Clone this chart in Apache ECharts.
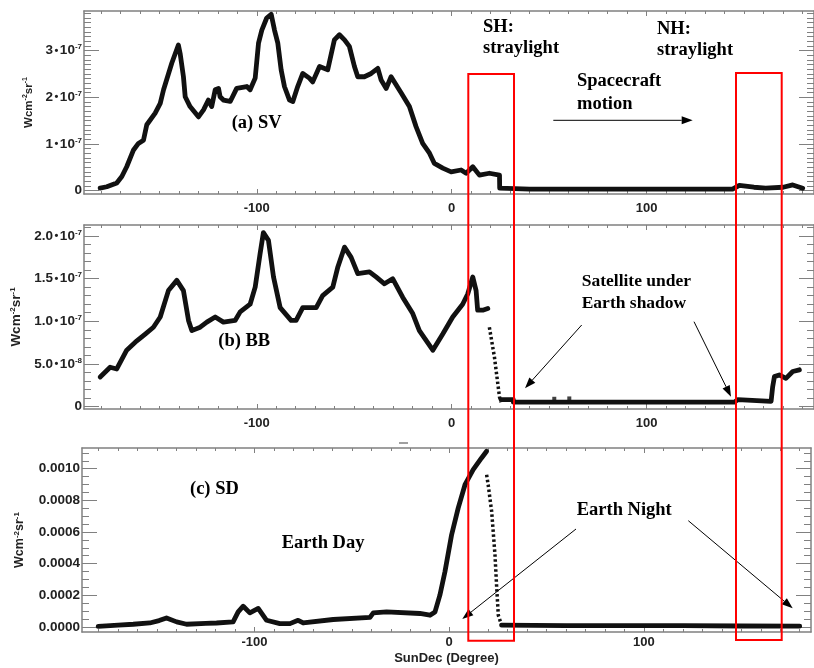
<!DOCTYPE html>
<html>
<head>
<meta charset="utf-8">
<script src="https://cdn.jsdelivr.net/npm/echarts@6/dist/echarts.min.js"></script>
<style>
  html, body { margin: 0; padding: 0; background: #fff; }
  #main { width: 814px; height: 668px; }
</style>
</head>
<body>
<div id="main"></div>
<script>
// SunDec (deg) vs radiance. SV/BB in 1e-7 Wcm-2sr-1, SD in 1e-4 Wcm-2sr-1
var svData = [[-180.3,0.05],[-176.9,0.08],[-171.8,0.16],[-169.2,0.30],[-166.7,0.51],[-163.2,0.87],[-160.7,1.01],[-158.1,1.08],
  [-156.4,1.41],[-152.1,1.66],[-149.5,1.87],[-147.8,2.16],[-143.6,2.73],[-140.2,3.12],[-139.3,2.94],[-137.6,2.44],
  [-136.7,2.01],[-134.2,1.80],[-129.9,1.58],[-127.3,1.73],[-124.8,1.94],[-123.1,1.80],[-121.3,2.16],[-119.6,2.19],
  [-118.8,2.01],[-117.1,1.94],[-113.6,1.91],[-110.3,2.19],[-105.1,2.23],[-103.4,2.16],[-100.8,2.41],[-99.1,3.16],
  [-97.4,3.44],[-94.9,3.70],[-92.6,3.78],[-90.9,3.44],[-89.2,3.16],[-87.5,2.59],[-85.8,2.23],[-83.2,1.94],[-81.5,1.91],
  [-79.0,2.23],[-76.4,2.51],[-73.0,2.41],[-71.3,2.33],[-67.8,2.66],[-63.6,2.59],[-60.2,3.23],[-57.6,3.34],[-55.0,3.23],
  [-52.5,3.09],[-49.9,2.66],[-48.2,2.44],[-44.8,2.44],[-41.3,2.51],[-37.9,2.62],[-36.2,2.37],[-33.6,2.19],[-31.1,2.44],
  [-25.9,2.09],[-21.7,1.80],[-18.3,1.37],[-14.9,1.01],[-11.4,0.80],[-8.9,0.58],[-4.6,0.48],[-0.3,0.40],[4.8,0.44],
  [7.4,0.37],[10.8,0.51],[14.2,0.33],[19.3,0.37],[24.5,0.33],[24.6,0.05],[40,0.03],[80,0.03],[120,0.03],[144,0.03],
  [147.5,0.11],[155,0.07],[161,0.05],[170,0.07],[174.9,0.12],[180,0.05]];

var bbData = [[-180.3,0.345],[-175.2,0.46],[-171.8,0.44],[-166.7,0.66],[-161.5,0.77],[-157.2,0.85],[-153.0,0.93],
  [-149.5,1.05],[-145.3,1.36],[-141.0,1.48],[-137.6,1.36],[-135.0,1.01],[-133.3,0.89],[-129.0,0.93],[-125.6,0.99],
  [-121.3,1.05],[-117.1,0.99],[-111.1,1.01],[-108.5,1.11],[-103.4,1.20],[-100.8,1.40],[-98.3,1.79],[-96.6,2.04],
  [-94.0,1.95],[-91.4,1.52],[-88.0,1.16],[-82.4,1.01],[-79.8,1.01],[-76.4,1.16],[-69.5,1.16],[-66.2,1.30],[-61.0,1.40],
  [-58.5,1.63],[-55.0,1.87],[-51.6,1.75],[-48.2,1.56],[-42.2,1.58],[-38.8,1.52],[-34.5,1.44],[-30.3,1.50],[-25.1,1.28],
  [-20.0,1.09],[-16.6,0.89],[-9.7,0.66],[-4.6,0.85],[0.5,1.05],[5.6,1.20],[8.2,1.32],[10.8,1.52],[12.5,1.36],
  [13.3,1.13],[15.9,1.13],[18.5,1.15]];
var bbDrop = [[19.3,0.93],[21.9,0.58],[24.5,0.11],[25.3,0.05]];
var bbFloor = [[25.3,0.08],[31.6,0.08],[31.6,0.05],[145,0.05],[146.7,0.08],[163.8,0.06],[164.6,0.23],[165.5,0.35],
  [168,0.37],[171.4,0.33],[174.9,0.41],[178.3,0.43]];
var bbStray = [[52.6,0.09],[60.3,0.094]];

var sdData = [[-180.3,0.04],[-170,0.12],[-162.3,0.17],[-153.8,0.25],[-149,0.40],[-145.2,0.57],[-140.0,0.32],
  [-134.9,0.17],[-125,0.22],[-119.5,0.25],[-111,0.32],[-108.4,0.95],[-105.8,1.31],[-102.4,0.89],[-98.1,1.17],
  [-93.8,0.42],[-87.0,0.21],[-81.8,0.21],[-77.6,0.42],[-75.0,0.25],[-59.6,0.47],[-40.7,0.60],[-39.0,0.89],
  [-32.2,0.95],[-15.1,0.85],[-9.9,0.74],[-7.3,0.95],[-4.8,2.01],[-2.2,3.49],[1.2,5.81],[4.6,7.51],[8.1,8.99],
  [12.3,9.94],[16.6,10.68],[19.2,11.1]];
var sdDrop = [[19.2,9.62],[20.0,8.99],[21.8,7.29],[23.5,4.55],[24.4,2.44],[25.2,0.74],[26.9,0.11]];
var sdFloor = [[26.9,0.11],[60,0.08],[120,0.08],[150,0.06],[180,0.05]];

var xMajor = [-100, 0, 100];
var yMajorA = [0, 1, 2, 3];
var yMajorB = [0, 0.5, 1, 1.5, 2];
var yMajorC = [0, 2, 4, 6, 8, 10];

var chart = echarts.init(document.getElementById('main'));
var SANS = '"Liberation Sans", Arial, sans-serif';
var SERIF = '"Liberation Serif", "Times New Roman", serif';
var AXC = '#808080';

var xMinor = [];
for (var k = -180; k <= 180; k += 10) { if (k % 100 !== 0) xMinor.push(k); }

function minors(step, max, majors) {
  var out = [];
  for (var i = 0; i * step <= max; i++) {
    var v = +(i * step).toFixed(4);
    var isMajor = majors.some(function (m) { return Math.abs(m - v) < 1e-6; });
    if (!isMajor) out.push(v);
  }
  return out;
}

function sci(v, exp) {
  return '{n|' + v + '}{d|•}{n|10}{s|' + exp + '}';
}
var fmtA = function (v) { return v === 0 ? '{n|0}' : sci(v, '-7'); };
var fmtB = function (v) {
  if (v === 0) return '{n|0}';
  if (v === 0.5) return sci('5.0', '-8');
  return sci(v.toFixed(1), '-7');
};
var fmtC = function (v) { return '{n|' + (v * 1e-4).toFixed(4) + '}'; };

var labelRich = {
  n: { fontSize: 13.5, fontWeight: 'bold', color: '#222', fontFamily: SANS, lineHeight: 15 },
  d: { fontSize: 11, fontWeight: 'bold', color: '#222', fontFamily: SANS, padding: [0, 1.5, 0, 1.5], lineHeight: 15 },
  s: { fontSize: 8, fontWeight: 'bold', color: '#222', fontFamily: SANS, verticalAlign: 'top', lineHeight: 15 }
};

function nameRich(size) {
  return {
    n: { fontSize: size, fontWeight: 'bold', color: '#222', fontFamily: SANS, lineHeight: size + 2 },
    s: { fontSize: Math.round(size * 0.62), fontWeight: 'bold', color: '#222', fontFamily: SANS,
         verticalAlign: 'top', lineHeight: size + 2 }
  };
}

var panels = [
  { grid: { left: 84, top: 11, right: 0, height: 183 }, yMin: -0.075, yMax: 3.85, yMajor: yMajorA,
    yMinor: minors(0.1, 3.85, yMajorA), fmt: fmtA, nameSize: 11.5, nameGap: 43, labelMargin: 8 },
  { grid: { left: 84, top: 225, right: 0, height: 184 }, yMin: -0.03, yMax: 2.13, yMajor: yMajorB,
    yMinor: minors(0.1, 2.13, yMajorB), fmt: fmtB, nameSize: 13.5, nameGap: 58, labelMargin: 8 },
  { grid: { left: 82, top: 448, right: 3, height: 184 }, yMin: -0.32, yMax: 11.31, yMajor: yMajorC,
    yMinor: minors(0.5, 11.31, yMajorC), fmt: fmtC, nameSize: 12.5, nameGap: 55, labelMargin: 4 }
];

var grids = [], xAxes = [], yAxes = [];
panels.forEach(function (p, gi) {
  grids.push(p.grid);
  var xBase = { type: 'value', gridIndex: gi, min: -188.6, max: 185.8, splitLine: { show: false } };
  var lineOn = { show: true, onZero: false, lineStyle: { color: AXC, width: 1.5 } };
  var lineOff = { show: false, onZero: false };
  // bottom major (with labels), bottom minor, top major, top minor
  xAxes.push(Object.assign({}, xBase, {
    position: 'bottom', axisLine: lineOn,
    axisTick: { show: true, inside: true, length: 5, customValues: xMajor, lineStyle: { color: AXC } },
    axisLabel: { show: true, customValues: xMajor, margin: p.labelMargin, fontSize: 13, fontWeight: 'bold',
                 color: '#222', fontFamily: SANS },
    name: gi === 2 ? 'SunDec (Degree)' : '',
    nameLocation: 'middle', nameGap: 20,
    nameTextStyle: { fontSize: 13, fontWeight: 'bold', color: '#222', fontFamily: SANS }
  }));
  xAxes.push(Object.assign({}, xBase, {
    position: 'bottom', axisLine: lineOff,
    axisTick: { show: true, inside: true, length: 3, customValues: xMinor, lineStyle: { color: AXC } },
    axisLabel: { show: false }
  }));
  xAxes.push(Object.assign({}, xBase, {
    position: 'top', axisLine: lineOn,
    axisTick: { show: true, inside: true, length: 5, customValues: xMajor, lineStyle: { color: AXC } },
    axisLabel: { show: false }
  }));
  xAxes.push(Object.assign({}, xBase, {
    position: 'top', axisLine: lineOff,
    axisTick: { show: true, inside: true, length: 3, customValues: xMinor, lineStyle: { color: AXC } },
    axisLabel: { show: false }
  }));

  var yBase = { type: 'value', gridIndex: gi, min: p.yMin, max: p.yMax, splitLine: { show: false } };
  yAxes.push(Object.assign({}, yBase, {
    position: 'left', axisLine: lineOn,
    axisTick: { show: true, inside: true, length: 15, customValues: p.yMajor, lineStyle: { color: AXC } },
    axisLabel: { show: true, customValues: p.yMajor, margin: 2, formatter: p.fmt, rich: labelRich },
    name: '{n|Wcm}{s|-2}{n|sr}{s|-1}', nameLocation: 'middle', nameRotate: 90, nameGap: p.nameGap,
    nameTextStyle: { rich: nameRich(p.nameSize) }
  }));
  yAxes.push(Object.assign({}, yBase, {
    position: 'left', axisLine: lineOff,
    axisTick: { show: true, inside: true, length: 7, customValues: p.yMinor, lineStyle: { color: AXC } },
    axisLabel: { show: false }
  }));
  yAxes.push(Object.assign({}, yBase, {
    position: 'right', axisLine: lineOn,
    axisTick: { show: true, inside: true, length: 15, customValues: p.yMajor, lineStyle: { color: AXC } },
    axisLabel: { show: false }
  }));
  yAxes.push(Object.assign({}, yBase, {
    position: 'right', axisLine: lineOff,
    axisTick: { show: true, inside: true, length: 7, customValues: p.yMinor, lineStyle: { color: AXC } },
    axisLabel: { show: false }
  }));
});

function curve(data, gi, dashed) {
  return {
    type: 'line', xAxisIndex: gi * 4, yAxisIndex: gi * 4, data: data,
    symbol: 'none', silent: true, animation: false, z: 3,
    lineStyle: dashed ? { color: '#111', width: 3.5, type: [2.5, 2.5] }
                      : { color: '#111', width: 4.8, join: 'round', cap: 'round' }
  };
}

var series = [
  curve(svData, 0),
  curve(bbData, 1), curve(bbDrop, 1, true), curve(bbFloor, 1),
  { type: 'scatter', xAxisIndex: 4, yAxisIndex: 4, data: bbStray, symbol: 'rect', symbolSize: 4,
    itemStyle: { color: '#111' }, silent: true, animation: false },
  curve(sdData, 2), curve(sdDrop, 2, true), curve(sdFloor, 2)
];

function txt(s, x, y, size) {
  return { type: 'text', z: 50, style: { text: s, x: x, y: y, fill: '#000',
    font: 'bold ' + (size || 18.5) + 'px ' + SERIF, textVerticalAlign: 'middle', textAlign: 'left' } };
}
function arrow(x1, y1, x2, y2) {
  var a = Math.atan2(y2 - y1, x2 - x1), L = 11, W = 4;
  var bx = x2 - L * Math.cos(a), by = y2 - L * Math.sin(a);
  var px = -Math.sin(a) * W, py = Math.cos(a) * W;
  return [
    { type: 'line', z: 50, shape: { x1: x1, y1: y1, x2: bx, y2: by }, style: { stroke: '#000', lineWidth: 1 } },
    { type: 'polygon', z: 50, shape: { points: [[x2, y2], [bx + px, by + py], [bx - px, by - py]] },
      style: { fill: '#000' } }
  ];
}

var graphics = [
  { type: 'rect', z: 60, shape: { x: 468.3, y: 74, width: 45.7, height: 566.7 },
    style: { fill: 'none', stroke: '#ff0000', lineWidth: 2 } },
  { type: 'rect', z: 60, shape: { x: 736, y: 73, width: 45.7, height: 567 },
    style: { fill: 'none', stroke: '#ff0000', lineWidth: 2 } },
  { type: 'line', z: 50, shape: { x1: 399, y1: 443, x2: 408, y2: 443 }, style: { stroke: AXC, lineWidth: 1.5 } },
  txt('SH:', 483, 27), txt('straylight', 483, 48.5),
  txt('NH:', 657, 29), txt('straylight', 657, 50.7),
  txt('Spacecraft', 577, 81.3), txt('motion', 577, 104),
  txt('(a) SV', 231.7, 123.3),
  txt('(b) BB', 218.3, 341.7),
  txt('Satellite under', 581.7, 281.3, 17.5), txt('Earth shadow', 581.7, 303.3, 17.5),
  txt('(c) SD', 190, 489.7),
  txt('Earth Day', 281.7, 543.3),
  txt('Earth Night', 576.7, 510)
].concat(arrow(553.3, 120.3, 692.7, 120.3))
 .concat(arrow(581.7, 325, 525, 388.3))
 .concat(arrow(694, 321.7, 731, 396.7))
 .concat(arrow(576, 529, 462.3, 619))
 .concat(arrow(688.3, 520.7, 792.7, 608.3));

chart.setOption({
  backgroundColor: '#fff',
  animation: false,
  grid: grids,
  xAxis: xAxes,
  yAxis: yAxes,
  series: series,
  graphic: graphics
});
</script>
</body>
</html>
